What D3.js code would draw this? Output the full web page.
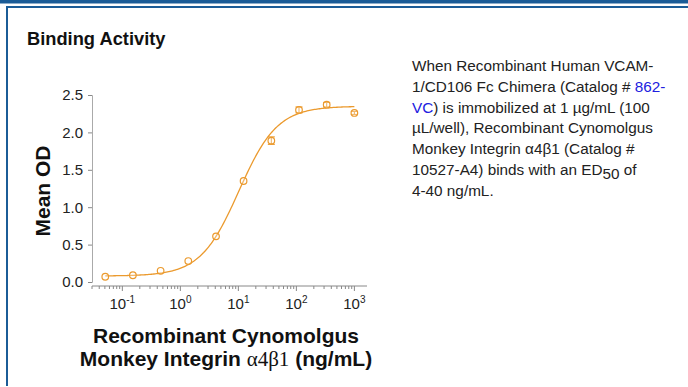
<!DOCTYPE html>
<html>
<head>
<meta charset="utf-8">
<script src="https://cdn.jsdelivr.net/npm/d3@7"></script>
<style>
  body { margin: 0; background: #fff; }
  svg { display: block; font-family: "Liberation Sans", Arial, sans-serif; }
</style>
</head>
<body>
<div id="chart"></div>
<script>
// concentrations (ng/mL), 3-fold dilutions
const concentrations = [0.0508, 0.152, 0.457, 1.37, 4.12, 12.3, 37.0, 111, 333, 1000];
const meanOD = [0.07, 0.09, 0.15, 0.28, 0.61, 1.35, 1.89, 2.30, 2.37, 2.26];
const errOD = [0.01, 0.01, 0.01, 0.01, 0.01, 0.01, 0.05, 0.04, 0.03, 0.02];
// 4PL fit parameters
const fitBottom = 0.08, fitTop = 2.35, fitEC50 = 10.2, fitHill = 1.31;
const yTicks = [0, 0.5, 1.0, 1.5, 2.0, 2.5];
const xMajor = [-1, 0, 1, 2, 3]; // exponents

const W = 688, H = 387;
const orange = "#eb9a2e";

const svg = d3.select("#chart").append("svg")
    .attr("width", W)
    .attr("height", H);

// frame
svg.append("rect").attr("x", 0).attr("y", 0).attr("width", W).attr("height", 3.5).attr("fill", "#1b5c97");
svg.append("rect").attr("x", 6).attr("y", 6).attr("width", W - 6).attr("height", 2).attr("fill", "#1b5c97");
svg.append("rect").attr("x", 6).attr("y", 6).attr("width", 2).attr("height", 380).attr("fill", "#1b5c97");

svg.append("text")
    .attr("x", 27).attr("y", 44.5)
    .attr("font-size", 18.3).attr("font-weight", "bold").attr("fill", "#111")
    .text("Binding Activity");

// scales
const x = d3.scaleLog().domain([0.03, 1650]).range([92, 367]);
const y = d3.scaleLinear().domain([0, 2.5]).range([282, 95]);

// y axis
const yAxis = svg.append("g")
    .attr("transform", "translate(92,0)")
    .call(d3.axisLeft(y).tickValues(yTicks).tickSize(4).tickFormat(d3.format(".1f")));
yAxis.select(".domain").attr("stroke", "#aaa");
yAxis.selectAll(".tick line").attr("stroke", "#888");
yAxis.selectAll(".tick text").attr("font-size", 15).attr("fill", "#222")
    .attr("font-family", "Liberation Sans, Arial, sans-serif").attr("x", -9);

// x axis with minor ticks
const minor = [];
for (let e = -2; e <= 3; e++) {
    for (let m = 1; m <= 9; m++) {
        const v = m * Math.pow(10, e);
        if (v >= 0.03 && v <= 1650) minor.push(v);
    }
}
const xg = svg.append("g").attr("transform", "translate(0,286)");
xg.append("line").attr("x1", 92).attr("x2", 367).attr("stroke", "#888");
xg.selectAll(".xt").data(minor).enter().append("line")
    .attr("x1", d => x(d)).attr("x2", d => x(d))
    .attr("y1", 0)
    .attr("y2", d => Math.abs(Math.log10(d) - Math.round(Math.log10(d))) < 1e-9 ? 5 : 3)
    .attr("stroke", "#888");
const xl = xg.selectAll(".xl").data(xMajor).enter().append("text")
    .attr("x", d => x(Math.pow(10, d)))
    .attr("y", 23)
    .attr("text-anchor", "middle")
    .attr("font-size", 15).attr("fill", "#222");
xl.append("tspan").text("10");
xl.append("tspan").attr("dy", -6).attr("font-size", 10).text(d => d);

// fitted curve
const curvePts = d3.range(0, 201).map(i => {
    const lx = Math.log10(concentrations[0]) + i / 200 * (Math.log10(1000) - Math.log10(concentrations[0]));
    const c = Math.pow(10, lx);
    return [c, fitBottom + (fitTop - fitBottom) / (1 + Math.pow(fitEC50 / c, fitHill))];
});
svg.append("path")
    .datum(curvePts)
    .attr("fill", "none").attr("stroke", orange).attr("stroke-width", 1.3)
    .attr("d", d3.line().x(d => x(d[0])).y(d => y(d[1])));

// error bars
const pts = concentrations.map((c, i) => ({ c, v: meanOD[i], e: errOD[i] }));
const eb = svg.selectAll(".eb").data(pts.filter(d => d.e > 0.015)).enter().append("g")
    .attr("stroke", orange).attr("stroke-width", 1.1);
eb.append("line").attr("x1", d => x(d.c)).attr("x2", d => x(d.c))
    .attr("y1", d => y(d.v + d.e)).attr("y2", d => y(d.v - d.e));
eb.append("line").attr("x1", d => x(d.c) - 3.5).attr("x2", d => x(d.c) + 3.5)
    .attr("y1", d => y(d.v + d.e)).attr("y2", d => y(d.v + d.e));
eb.append("line").attr("x1", d => x(d.c) - 3.5).attr("x2", d => x(d.c) + 3.5)
    .attr("y1", d => y(d.v - d.e)).attr("y2", d => y(d.v - d.e));

// points
svg.selectAll(".pt").data(pts).enter().append("circle")
    .attr("cx", d => x(d.c)).attr("cy", d => y(d.v)).attr("r", 3.3)
    .attr("fill", "#fff").attr("fill-opacity", 0.3)
    .attr("stroke", orange).attr("stroke-width", 1.2);

// axis titles
svg.append("text")
    .attr("transform", "translate(50,191) rotate(-90)")
    .attr("text-anchor", "middle")
    .attr("font-size", 21).attr("font-weight", "bold").attr("fill", "#111")
    .text("Mean OD");

svg.append("text")
    .attr("x", 226).attr("y", 343)
    .attr("text-anchor", "middle")
    .attr("font-size", 21).attr("font-weight", "bold").attr("fill", "#111")
    .text("Recombinant Cynomolgus");
const t2 = svg.append("text")
    .attr("x", 226).attr("y", 366)
    .attr("text-anchor", "middle")
    .attr("font-size", 21).attr("font-weight", "bold").attr("fill", "#111");
t2.append("tspan").text("Monkey Integrin ");
t2.append("tspan").attr("font-family", "Liberation Serif, Times New Roman, serif")
    .attr("font-weight", "normal").text("\u03b14\u03b21");
t2.append("tspan").text(" (ng/mL)");

// description text
const desc = [
    [["When Recombinant Human VCAM-", null]],
    [["1/CD106 Fc Chimera (Catalog # ", null], ["862-", "link"]],
    [["VC", "link"], [") is immobilized at 1 \u00b5g/mL (100", null]],
    [["\u00b5L/well), Recombinant Cynomolgus", null]],
    [["Monkey Integrin \u03b14\u03b21 (Catalog #", null]],
    [["10527-A4) binds with an ED", null], ["50", "sub"], [" of", "after"]],
    [["4-40 ng/mL.", null]]
];
desc.forEach((line, i) => {
    const t = svg.append("text")
        .attr("x", 412).attr("y", 71 + i * 20.8)
        .attr("font-size", 15.3).attr("fill", "#222");
    line.forEach(([s, kind]) => {
        const ts = t.append("tspan").text(s);
        if (kind === "link") ts.attr("fill", "#2020e0");
        if (kind === "sub") ts.attr("dy", 4);
        if (kind === "after") ts.attr("dy", -4);
    });
});
</script>
</body>
</html>
